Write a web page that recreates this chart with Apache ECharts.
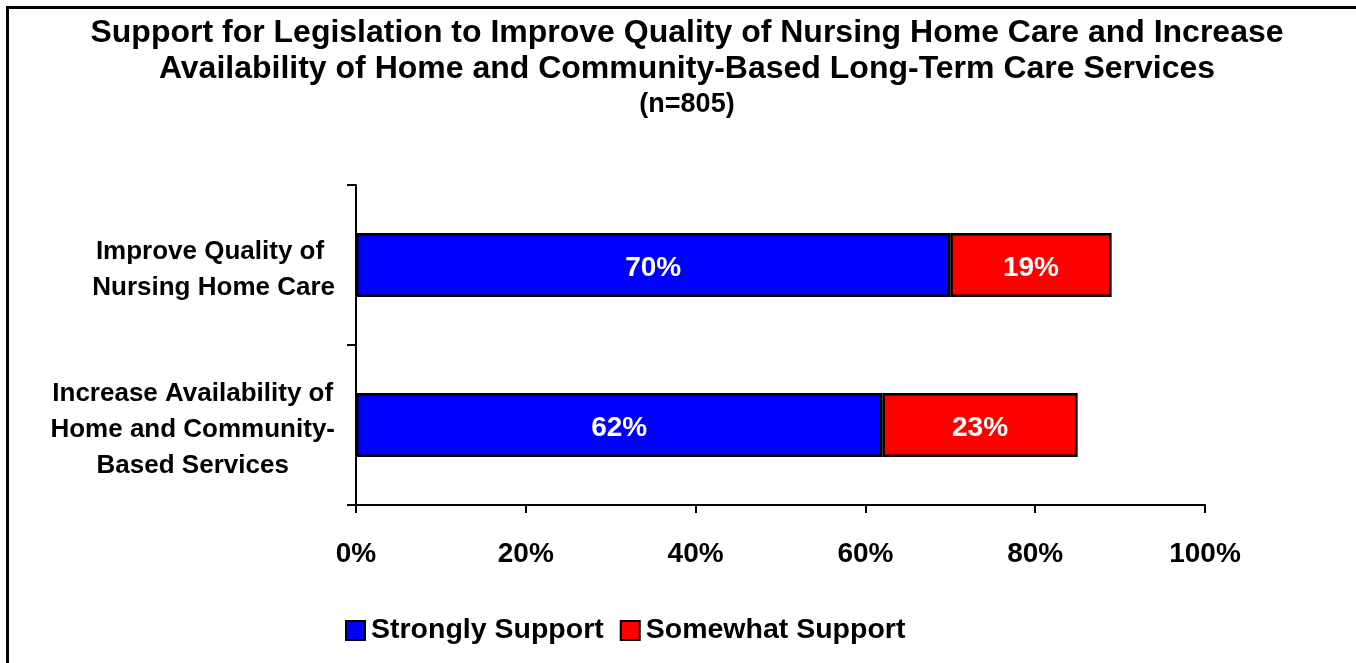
<!DOCTYPE html>
<html>
<head>
<meta charset="utf-8">
<script src="https://cdn.jsdelivr.net/npm/echarts@6/dist/echarts.min.js"></script>
<style>
  html, body { margin: 0; padding: 0; background: #fff; }
  #chart { width: 1356px; height: 663px; }
  #frame { position: absolute; left: 6px; top: 6px; width: 1360px; height: 700px;
           border-left: 3px solid #000; border-top: 3px solid #000; pointer-events: none; }
</style>
</head>
<body>
<div id="chart"></div>
<div id="frame"></div>
<script>
const titleLines = ['Support for Legislation to Improve Quality of Nursing Home Care and Increase',
                    'Availability of Home and Community-Based Long-Term Care Services'];
const subtitle = '(n=805)';
const categories = ['Improve Quality of \nNursing Home Care',
                    'Increase Availability of\nHome and Community-\nBased Services'];
const seriesNames = ['Strongly Support', 'Somewhat Support'];
const stronglySupport = [70, 62];
const somewhatSupport = [19, 23];
const xTicks = [0, 20, 40, 60, 80, 100];

const FONT = '"Liberation Sans", Arial, sans-serif';
const chart = echarts.init(document.getElementById('chart'), null, { renderer: 'canvas' });

const barLabel = { show: true, position: 'inside', offset: [0, 3], formatter: '{c}%',
                   fontFamily: FONT, fontWeight: 'bold', fontSize: 28, color: '#fff' };

chart.setOption({
  backgroundColor: '#fff',
  animation: false,
  title: {
    text: titleLines.join('\n'),
    subtext: subtitle,
    left: 682, top: 10, textAlign: 'center',
    itemGap: 0,
    textStyle: { fontFamily: FONT, fontWeight: 'bold', fontSize: 32, lineHeight: 36, color: '#000' },
    subtextStyle: { fontFamily: FONT, fontWeight: 'bold', fontSize: 27, lineHeight: 36, color: '#000' }
  },
  legend: {
    data: seriesNames,
    left: 340, top: 611,
    itemWidth: 19, itemHeight: 19, itemGap: 16,
    icon: 'rect',
    textStyle: { fontFamily: FONT, fontWeight: 'bold', fontSize: 28.5, color: '#000', padding: [0, 0, 0, 1] },
    itemStyle: { borderColor: '#000', borderWidth: 2 }
  },
  grid: { left: 356, right: 151, top: 185, bottom: 158, containLabel: false },
  xAxis: {
    type: 'value', min: xTicks[0], max: xTicks[xTicks.length - 1], interval: 20,
    axisLine: { show: true, onZero: false, lineStyle: { color: '#000', width: 2 } },
    axisTick: { show: true, length: 8, lineStyle: { color: '#000', width: 2 } },
    splitLine: { show: false },
    axisLabel: { formatter: '{value}%', margin: 35, fontFamily: FONT, fontWeight: 'bold', fontSize: 28, color: '#000' }
  },
  yAxis: {
    type: 'category', data: categories, inverse: true,
    axisLine: { show: true, lineStyle: { color: '#000', width: 2 } },
    axisTick: { show: true, length: 9, lineStyle: { color: '#000', width: 2 } },
    axisLabel: {
      margin: 21, color: '#000', padding: [10, 0, 0, 0],
      formatter: v => v.split('\n').map(l => '{c|' + l + '}').join('\n'),
      rich: { c: { align: 'center', fontFamily: FONT, fontWeight: 'bold', fontSize: 26, lineHeight: 36, color: '#000' } }
    }
  },
  series: [
    { name: seriesNames[0], type: 'bar', stack: 's', data: stronglySupport, barWidth: 64,
      itemStyle: { color: '#0000ff', borderColor: '#000', borderWidth: 2.5 },
      label: barLabel },
    { name: seriesNames[1], type: 'bar', stack: 's', data: somewhatSupport, barWidth: 64,
      itemStyle: { color: '#ff0000', borderColor: '#000', borderWidth: 2.5 },
      label: barLabel }
  ]
});
</script>
</body>
</html>
